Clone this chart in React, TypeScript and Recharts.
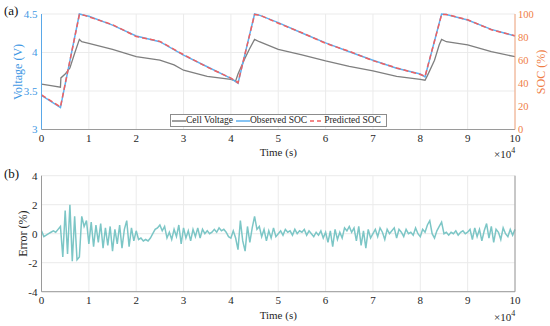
import { LineChart, Line, XAxis, YAxis, CartesianGrid, Legend } from "recharts"

const FONT = "Liberation Serif, Times New Roman, serif"

// time in units of 1e4 s
const xTicks = [0, 1, 2, 3, 4, 5, 6, 7, 8, 9, 10]
const voltTicks = [3, 3.5, 4, 4.5]
const socTicks = [0, 20, 40, 60, 80, 100]
const errTicks = [-4, -2, 0, 2, 4]

const voltTime = [0, 0.2, 0.4, 0.41, 0.5, 0.6, 0.7, 0.8, 0.85, 1, 1.5, 2, 2.5, 2.8, 3, 3.5, 4, 4.1, 4.15, 4.3, 4.4, 4.5, 4.6, 5, 5.5, 6, 6.5, 7, 7.5, 8, 8.1, 8.15, 8.3, 8.4, 8.45, 8.55, 9, 9.5, 10]
const voltage = [3.59, 3.57, 3.55, 3.67, 3.72, 3.8, 3.99, 4.17, 4.14, 4.12, 4.04, 3.945, 3.9, 3.84, 3.77, 3.69, 3.65, 3.63, 3.72, 3.93, 4.055, 4.17, 4.14, 4.04, 3.97, 3.89, 3.82, 3.76, 3.69, 3.65, 3.64, 3.7, 3.9, 4.1, 4.17, 4.14, 4.1, 4.01, 3.945]

const socTime = [0, 0.4, 0.8, 0.9, 1, 1.5, 2, 2.5, 3, 3.5, 4, 4.15, 4.5, 4.6, 5, 5.5, 6, 6.5, 7, 7.5, 8, 8.1, 8.45, 8.55, 9, 9.5, 10]
const socObserved = [29.5, 19, 100, 99, 98, 90.4, 81, 76, 64.4, 54.3, 44.2, 40, 100, 99, 92.5, 83.5, 75, 67.3, 60, 53, 48, 45.6, 100, 99.5, 94.8, 86.7, 80.9]
const socPredicted = [30, 19.5, 99.5, 99, 97.5, 90.8, 80.5, 76.3, 64.8, 54, 44.5, 40.5, 99.5, 99.2, 92, 83.8, 74.6, 67.7, 59.6, 53.3, 47.6, 46, 99.6, 99.6, 95, 86.4, 81.2]

const errStep = 0.05
const errValues = [
  0.2, -0.2, -0.1, 0.0, 0.1, 0.2, 0.1, 0.3, 0.5, -1.6,
  1.6, -1.4, 2.0, -1.9, 1.2, -1.8, -1.6, 1.2, 0.5, 0.9,
  -0.7, 0.8, -0.9, 0.6, -0.6, 0.7, -1.0, 0.4, -0.8, 0.5,
  -1.2, 0.3, -0.7, 0.6, -1.0, 0.3, 0.9, -0.9, 0.4, -0.5,
  0.2, -0.4, -0.3, -0.5, -0.4, -0.5, -0.3, 0.0, 0.3, 0.4,
  0.6, 0.2, 0.5, -0.3, 0.1, -0.4, 0.3, -0.2, 0.6, -0.7,
  0.4, -0.3, 0.2, -0.5, 0.3, -0.2, 0.4, -0.3, 0.3, 0.0,
  0.2, 0.0, 0.1, 0.3, 0.1, 0.4, 0.2, 0.3, 0.1, -0.2,
  -0.3, 0.2, -0.3, -1.1, 0.9, -0.5, -1.2, 0.5, -0.6, 0.4,
  1.2, 0.3, 0.5, -0.2, 0.3, -0.5, 0.2, -0.3, 0.4, -0.2,
  0.0, 0.2, -0.1, 0.3, 0.1, 0.2, -0.1, 0.3, 0.0, 0.2,
  0.1, 0.3, -0.1, 0.2, 0.0, -0.2, 0.1, -0.1, 0.2, -0.3,
  0.1, -0.6, 0.2, -0.9, 0.3, -0.4, 0.1, -0.3, 0.4, 0.2,
  0.5, 0.1, 0.4, -0.5, 0.5, -0.8, 0.2, -1.0, 0.3, -0.3,
  0.0, 0.3, -0.2, 0.4, 0.1, -0.4, 0.3, 0.0, 0.2, 0.4,
  -0.3, 0.3, 0.1, -0.2, 0.3, 0.0, 0.1, -0.1, 0.4, 0.0,
  -0.2, 0.3, 0.1, 0.6, 0.9, 0.0, -0.3, 0.2, 0.5, 0.8,
  0.0, 0.1, -0.1, 0.1, 0.0, 0.2, -0.1, 0.1, 0.2, 0.0,
  0.1, 0.3, -0.4, 0.4, -0.2, 0.3, -0.5, 0.2, 0.7, -0.3,
  0.5, -0.6, 0.3, 0.1, -0.4, 0.4, 0.0, -0.2, 0.3, -0.1, 0.3,
]

const voltData = voltTime.map((t, i) => ({ t, v: voltage[i] }))
const socData = socTime.map((t, i) => ({ t, obs: socObserved[i], pred: socPredicted[i] }))
const errData = errValues.map((e, i) => ({ t: i * errStep, e }))

const BLUE_AXIS = "#5aa8e8"
const BLUE_TEXT = "#3f98e4"
const ORANGE_AXIS = "#f4a67e"
const ORANGE_TEXT = "#ef7d45"
const GRAY_BOX = "#9a9a9a"
const GRID = "#ebebeb"
const TEXT = "#262626"

const tickStyle = { fontFamily: FONT, fontSize: 11, fill: TEXT }

const legendItems = [
  { name: "Cell Voltage", color: "#7f7f7f", dash: "" },
  { name: "Observed SOC", color: "#5eb0f0", dash: "" },
  { name: "Predicted SOC", color: "#f06060", dash: "4 3" },
]

function SocLegend() {
  return (
    <div style={{ display: "flex", alignItems: "center", border: "1px solid #8c8c8c", background: "#fff", fontFamily: FONT, fontSize: 9.5, color: TEXT, height: 11, lineHeight: "11px", padding: "0 2px 0 1px", whiteSpace: "nowrap" }}>
      {legendItems.map((it) => [
        <svg key={it.name + "-s"} width={14} height={4} style={{ display: "block" }}>
          <line x1={0} y1={2} x2={14} y2={2} stroke={it.color} strokeWidth={1.5} strokeDasharray={it.dash} />
        </svg>,
        <span key={it.name} style={{ marginRight: 3 }}>{it.name}</span>,
      ])}
    </div>
  )
}

function RotLabel({ x, y, text, color }: { x: number; y: number; text: string; color: string }) {
  return (
    <text x={x} y={y} transform={`rotate(-90 ${x} ${y})`} textAnchor="middle" dominantBaseline="central" fontFamily={FONT} fontSize={12} fill={color}>
      {text}
    </text>
  )
}

function Exp({ top }: { top: number }) {
  return (
    <div style={{ position: "absolute", left: 494, top, fontFamily: FONT, fontSize: 11, color: TEXT }}>
      ×10<sup style={{ fontSize: 8 }}>4</sup>
    </div>
  )
}

function PanelTag({ top, text }: { top: number; text: string }) {
  return (
    <div style={{ position: "absolute", left: 4, top, fontFamily: FONT, fontSize: 13, color: "#111" }}>{text}</div>
  )
}

export default function App() {
  return (
    <div style={{ position: "absolute", left: 0, top: 0, width: 550, height: 326, background: "#fff", fontFamily: FONT }}>
      <div style={{ position: "absolute", left: 0, top: 0 }}>
        <LineChart width={550} height={163} margin={{ top: 14, right: 0, bottom: 0, left: 0 }} style={{ fontFamily: FONT }}>
          <CartesianGrid stroke={GRID} xAxisId="bottom" yAxisId="left" />
          <XAxis xAxisId="bottom" type="number" dataKey="t" domain={[0, 10]} ticks={xTicks} height={33.5}
            stroke={GRAY_BOX} tickLine={false} tickSize={0} tickMargin={5} tick={tickStyle}
            label={{ value: "Time (s)", position: "insideBottom", offset: 7, style: { fontFamily: FONT, fontSize: 11, fill: TEXT } }} />
          <XAxis xAxisId="top" orientation="top" type="number" dataKey="t" domain={[0, 10]} height={0} tick={false} tickLine={false} stroke={GRAY_BOX} />
          <YAxis yAxisId="left" domain={[3, 4.5]} ticks={voltTicks} width={41.5} stroke={BLUE_AXIS}
            tickLine={false} tickSize={0} tickMargin={4} tick={{ ...tickStyle, fill: BLUE_TEXT }}
            label={{ content: () => <RotLabel x={18} y={72} text="Voltage (V)" color={BLUE_TEXT} /> }} />
          <YAxis yAxisId="right" orientation="right" domain={[0, 100]} ticks={socTicks} width={35} stroke={ORANGE_AXIS}
            tickLine={false} tickSize={0} tickMargin={3} tick={{ ...tickStyle, fontSize: 10.5, fill: ORANGE_TEXT }}
            label={{ content: () => <RotLabel x={541} y={72} text="SOC (%)" color={ORANGE_TEXT} /> }} />
          <Line xAxisId="bottom" yAxisId="left" data={voltData} dataKey="v" stroke="#7f7f7f" strokeWidth={1.3} dot={false} isAnimationActive={false} />
          <Line xAxisId="bottom" yAxisId="right" data={socData} dataKey="obs" stroke="#5eb0f0" strokeWidth={1.5} dot={false} isAnimationActive={false} />
          <Line xAxisId="bottom" yAxisId="right" data={socData} dataKey="pred" stroke="#f06060" strokeWidth={1.5} strokeDasharray="5 3" dot={false} isAnimationActive={false} />
          <Legend layout="horizontal" verticalAlign="middle" align="center" content={() => <SocLegend />}
            wrapperStyle={{ left: 170, top: 114, width: "auto", bottom: "auto" }} />
        </LineChart>
      </div>
      <div style={{ position: "absolute", left: 0, top: 163 }}>
        <LineChart width={550} height={163} margin={{ top: 12.7, right: 0, bottom: 0, left: 0 }} style={{ fontFamily: FONT }}>
          <CartesianGrid stroke={GRID} xAxisId="bottom" yAxisId="left" />
          <XAxis xAxisId="bottom" type="number" dataKey="t" domain={[0, 10]} ticks={xTicks} height={34.3}
            stroke={GRAY_BOX} tickLine={false} tickSize={0} tickMargin={4} tick={tickStyle}
            label={{ value: "Time (s)", position: "insideBottom", offset: 7, style: { fontFamily: FONT, fontSize: 11, fill: TEXT } }} />
          <XAxis xAxisId="top" orientation="top" type="number" dataKey="t" domain={[0, 10]} height={0} tick={false} tickLine={false} stroke={GRAY_BOX} />
          <YAxis yAxisId="left" domain={[-4, 4]} ticks={errTicks} width={41.5} stroke={GRAY_BOX}
            tickLine={false} tickSize={0} tickMargin={4} tick={tickStyle}
            label={{ content: () => <RotLabel x={23} y={70.7} text="Error (%)" color={TEXT} /> }} />
          <YAxis yAxisId="right" orientation="right" domain={[-4, 4]} width={35} tick={false} tickLine={false} stroke={GRAY_BOX} />
          <Line xAxisId="bottom" yAxisId="left" data={errData} dataKey="e" stroke="#7cc6c6" strokeWidth={1.5} dot={false} isAnimationActive={false} />
        </LineChart>
      </div>
      <PanelTag top={3} text="(a)" />
      <PanelTag top={166} text="(b)" />
      <Exp top={146} />
      <Exp top={309} />
    </div>
  )
}
